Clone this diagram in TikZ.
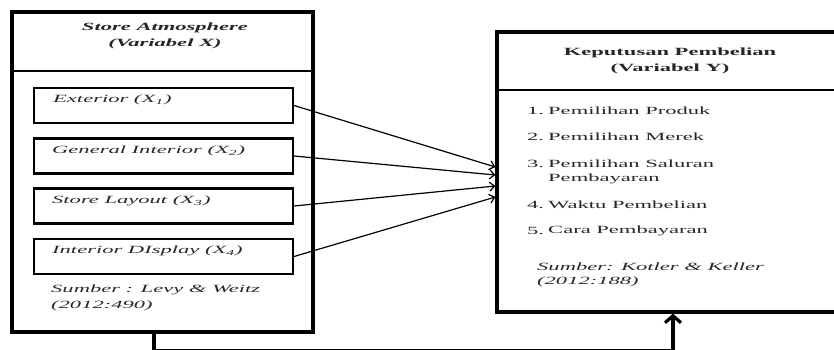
\documentclass[tikz,border=0pt]{standalone}
\usepackage{fontspec}
\usepackage{graphicx}
\setmainfont{Liberation Serif}
\usetikzlibrary{arrows.meta,calc}
\newcommand{\sx}[1]{\scalebox{2.05}[1]{#1}}
\tikzset{
  obox/.style={draw, line width=3.2pt, inner sep=0pt},
  ibox/.style={draw, line width=2.1pt, inner sep=0pt, minimum width=259pt, minimum height=35pt},
  divider/.style={line width=1.7pt},
  itxt/.style={anchor=west, inner sep=0pt, font=\fontsize{11}{13}\selectfont\itshape, text=black!85},
  htxt/.style={inner sep=0pt, font=\fontsize{11}{13}\selectfont\bfseries, text=black!85},
  rtxt/.style={anchor=west, inner sep=0pt, font=\fontsize{11}{13}\selectfont, text=black!85},
  arr/.style={line width=1.2pt, -{Straight Barb[length=5pt,width=9pt]}},
  bigarr/.style={line width=3.2pt, -{Straight Barb[length=7pt,width=16pt]}}
}
\begin{document}
\begin{tikzpicture}[x=1pt,y=-1pt]
\useasboundingbox (0,0) rectangle (834,349);
\clip (0,0) rectangle (834,349);
% left outer box
\node[obox, minimum width=301pt, minimum height=320pt] (lbox) at (162.5,172) {};
\draw[divider] (lbox.west |- 0,71) -- (lbox.east |- 0,71);
\node[htxt, font=\fontsize{11}{13}\selectfont\bfseries\itshape] (lhead) at (165,28) {\sx{Store Atmosphere}};
\node[htxt, font=\fontsize{11}{13}\selectfont\bfseries\itshape] (lhead2) at (165,44) {\sx{(Variabel X)}};
% inner boxes
\node[ibox] (x1) at (163.5,105.5) {};
\node[ibox] (x2) at (163.5,156) {};
\node[ibox] (x3) at (163.5,206) {};
\node[ibox] (x4) at (163.5,256.5) {};
\node[itxt] (t1) at (53,100) {\sx{Exterior (X\textsubscript{1})}};
\node[itxt] (t2) at (52,151) {\sx{General Interior (X\textsubscript{2})}};
\node[itxt] (t3) at (52,201) {\sx{Store Layout (X\textsubscript{3})}};
\node[itxt] (t4) at (52,251) {\sx{Interior DIsplay (X\textsubscript{4})}};
\node[itxt] (src1) at (51,290) {\sx{Sumber : Levy \& Weitz}};
\node[itxt] (src1b) at (51,306) {\sx{(2012:490)}};
% right outer box
\node[obox, minimum width=352pt, minimum height=280pt] (rbox) at (673,172) {};
\draw[divider] (rbox.west |- 0,90) -- (rbox.east |- 0,90);
\node[htxt] (rhead) at (670,53) {\sx{Keputusan Pembelian}};
\node[htxt] (rhead2) at (670,69) {\sx{(Variabel Y)}};
\node[rtxt] (n1) at (527,111) {\sx{1.}};
\node[rtxt] (y1) at (548,111) {\sx{Pemilihan Produk}};
\node[rtxt] (n2) at (527,137) {\sx{2.}};
\node[rtxt] (y2) at (548,137) {\sx{Pemilihan Merek}};
\node[rtxt] (n3) at (527,164) {\sx{3.}};
\node[rtxt] (y3) at (548,164) {\sx{Pemilihan Saluran}};
\node[rtxt] (y3b) at (548,179) {\sx{Pembayaran}};
\node[rtxt] (n4) at (527,205) {\sx{4.}};
\node[rtxt] (y4) at (548,205) {\sx{Waktu Pembelian}};
\node[rtxt] (n5) at (527,231) {\sx{5.}};
\node[rtxt] (y5) at (548,231) {\sx{Cara Pembayaran}};
\node[itxt] (src2) at (537,267) {\sx{Sumber: Kotler \& Keller}};
\node[itxt] (src2b) at (537,282) {\sx{(2012:188)}};
% arrow end points on right box
\coordinate (e1) at (rbox.west |- 0,167);
\coordinate (e2) at (rbox.west |- 0,175);
\coordinate (e3) at (rbox.west |- 0,186);
\coordinate (e4) at (rbox.west |- 0,197);
\draw[arr] (x1.east) -- (e1);
\draw[arr] (x2.east) -- (e2);
\draw[arr] (x3.east) -- (e3);
\draw[arr] (x4.east) -- (e4);
% bottom connector
\draw[bigarr] ([xshift=-8.5pt]lbox.south) -- ++(0,17.3) -| (rbox.south);
\end{tikzpicture}
\end{document}
